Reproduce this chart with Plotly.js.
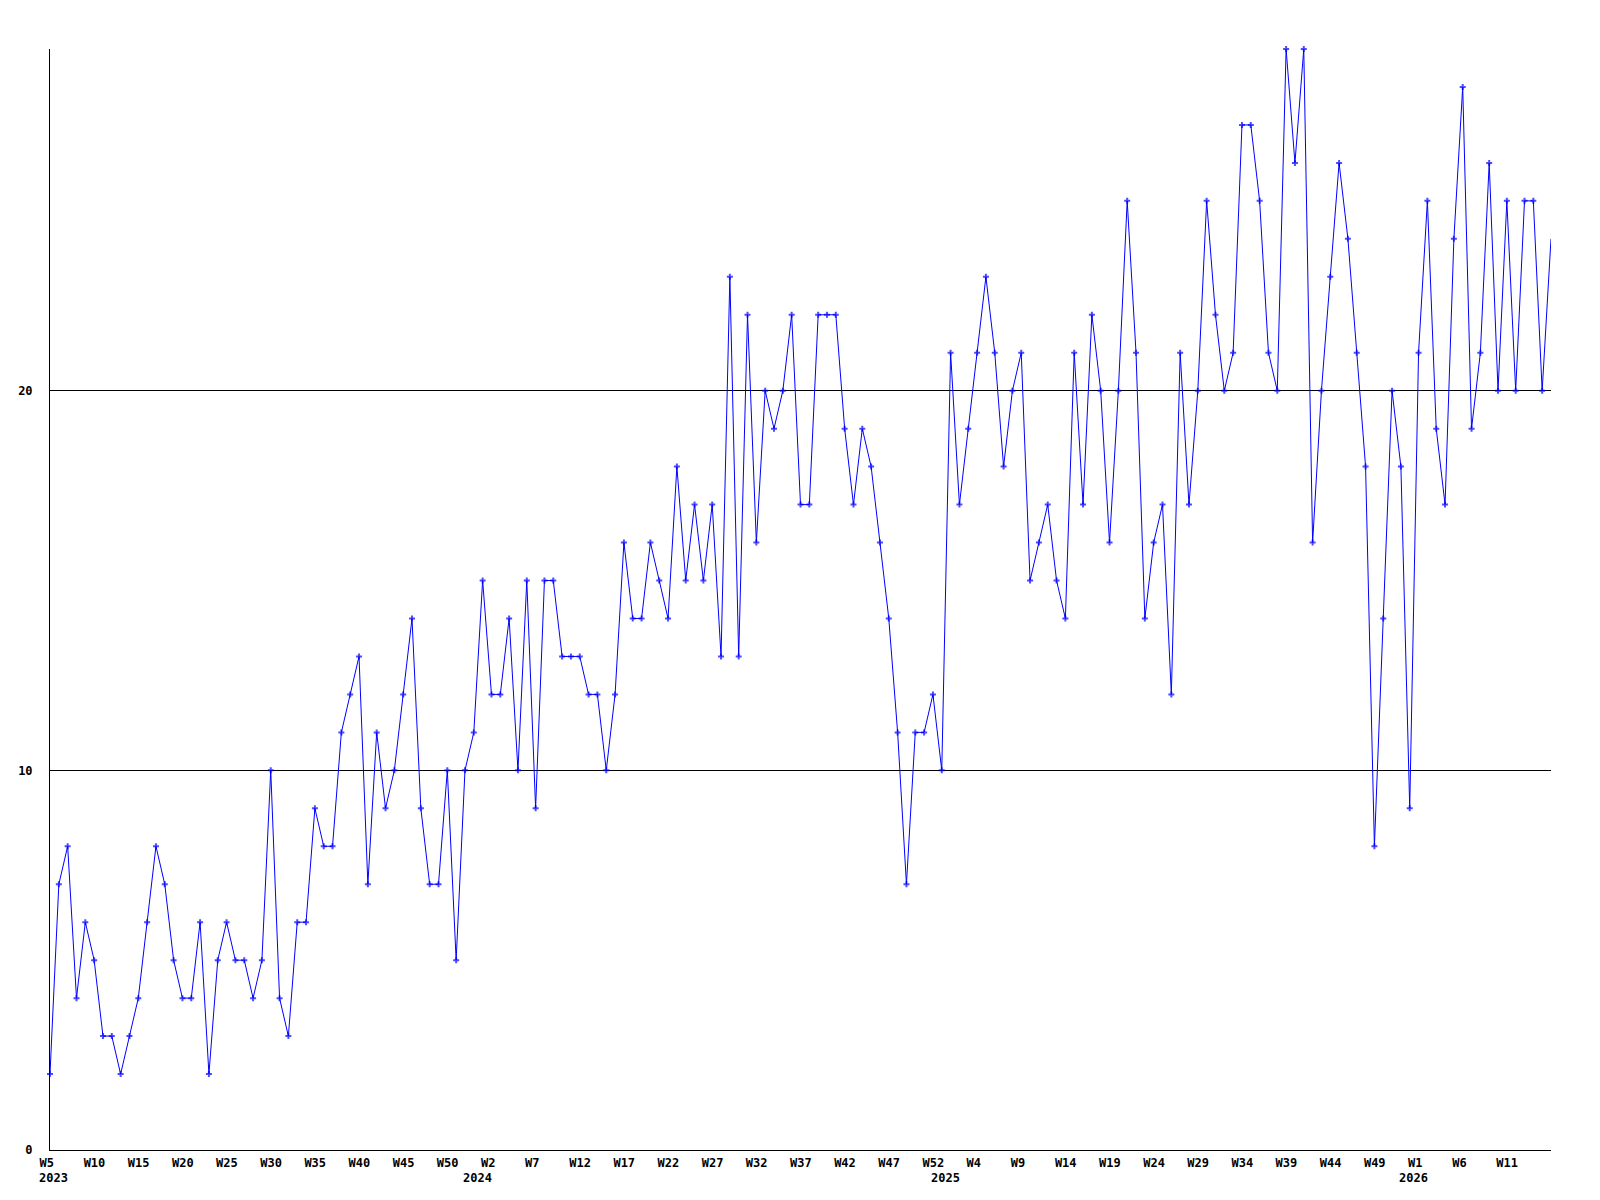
<!DOCTYPE html>
<html>
<head>
<meta charset="utf-8">
<script src="https://cdn.plot.ly/plotly-3.0.1.min.js"></script>
<style>html,body{margin:0;padding:0;background:#fff}#chart{width:1600px;height:1200px}</style>
</head>
<body>
<div id="chart"></div>
<script>
// Weekly values (one value per week, in order)
const values2023 = [2,7,8,4,6,5,3,3,2,3,4,6,8,7,5,4,4,6,2,5,6,5,5,4,5,10,4,3,6,6,9,8,8,11,12,13,7,11,9,10,12,14,9,7,7,10,5,10,11];
const values2024 = [15,12,12,14,10,15,9,15,15,13,13,13,12,12,10,12,16,14,14,16,15,14,18,15,17,15,17,13,23,13,22,16,20,19,20,22,17,17,22,22,22,19,17,19,18,16,14,11,7,11,11,12,10];
const values2025 = [21,17,19,21,23,21,18,20,21,15,16,17,15,14,21,17,22,20,16,20,25,21,14,16,17,12,21,17,20,25,22,20,21,27,27,25,21,20,29,26,29,16,20,23,26,24,21,18,8,14,20,18,9];
const values2026 = [21,25,19,17,24,28,19,21,26,20,25,20,25,25,20,24];

// Tick labels (one every 5 weeks) and year labels
const weekTickLabels = ['W5','W10','W15','W20','W25','W30','W35','W40','W45','W50',
  'W2','W7','W12','W17','W22','W27','W32','W37','W42','W47','W52',
  'W4','W9','W14','W19','W24','W29','W34','W39','W44','W49',
  'W1','W6','W11'];
const yearLabels = ['2023','2024','2025','2026'];
const yearLabelWeekIndex = [0, 48, 101, 154];
const yTickValues = [0, 10, 20];

const values = [].concat(values2023, values2024, values2025, values2026);
const xIdx = values.map((_, i) => i);
const tickStep = 5;
const tickVals = weekTickLabels.map((_, i) => i * tickStep);

const fontFamily = '"DejaVu Sans Mono", "Liberation Mono", monospace';
const tickFont = {family: fontFamily, size: 12, color: '#000', weight: 'bold'};

// the reference draws no marker on the final point (clipped at the right edge)
const markerSizes = values.map((_, i) => (i === values.length - 1 ? 0 : 5));

const trace = {
  x: xIdx,
  y: values,
  type: 'scatter',
  mode: 'lines+markers',
  line: {color: '#0000ff', width: 1},
  marker: {color: '#0000ff', symbol: 'cross', size: markerSizes, line: {width: 0}},
  cliponaxis: false,
  hoverinfo: 'x+y'
};

const annotations = yearLabels.map((t, i) => ({
  text: t,
  x: yearLabelWeekIndex[i],
  xref: 'x',
  y: 0,
  yref: 'paper',
  xanchor: 'left',
  yanchor: 'middle',
  xshift: -13,
  yshift: -28,
  showarrow: false,
  font: tickFont
}));

const layout = {
  width: 1600,
  height: 1200,
  margin: {l: 50, r: 49, t: 49, b: 50, pad: 0},
  paper_bgcolor: '#ffffff',
  plot_bgcolor: '#ffffff',
  showlegend: false,
  xaxis: {
    range: [0, xIdx.length - 1],
    tickmode: 'array',
    tickvals: tickVals,
    ticktext: weekTickLabels,
    showgrid: false,
    zeroline: false,
    showline: true,
    linecolor: '#000',
    linewidth: 1,
    ticks: '',
    tickfont: tickFont,
    ticklabelposition: 'outside right',
    ticklabelshift: -11,
    ticklabelstandoff: 2
  },
  yaxis: {
    range: [0, 29],
    tickmode: 'array',
    tickvals: yTickValues,
    ticktext: yTickValues.map(v => String(v).padStart(2, '\u00a0')),
    showgrid: true,
    gridcolor: '#000',
    gridwidth: 1,
    zeroline: false,
    showline: true,
    linecolor: '#000',
    linewidth: 1,
    ticks: '',
    tickfont: tickFont,
    ticklabelstandoff: 14
  },
  annotations: annotations
};

Plotly.newPlot('chart', [trace], layout, {displayModeBar: false, staticPlot: true});
</script>
</body>
</html>
